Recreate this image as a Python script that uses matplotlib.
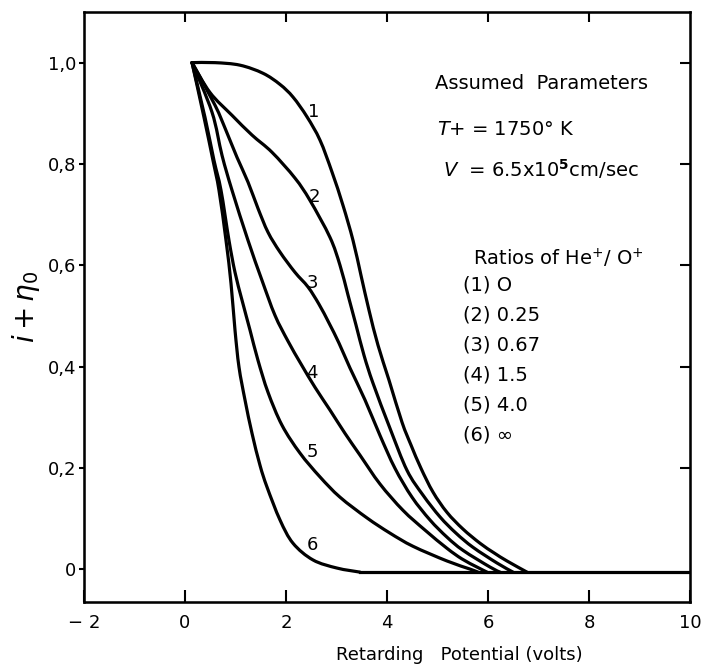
import matplotlib
matplotlib.use("Agg")
import numpy as np
from matplotlib import pyplot as plt
from matplotlib.path import Path
from matplotlib.patches import PathPatch

plt.rcParams['font.family'] = ['DejaVu Sans']
plt.rcParams['mathtext.fontset'] = 'dejavusans'

# retarding potential (volts) vs normalised current, one curve per He+/O+ ratio
v1 = [0.139, 0.594, 1.089, 1.545, 1.881, 2.139, 2.416, 2.673, 2.911, 3.129, 3.327, 3.485, 3.644,
      3.822, 4.040, 4.297, 4.475, 4.673, 4.911, 5.188, 5.505, 5.842, 6.119, 6.376, 6.772]
c1 = [1.000, 1.000, 0.995, 0.979, 0.957, 0.932, 0.893, 0.847, 0.784, 0.718, 0.649, 0.580, 0.511,
      0.442, 0.373, 0.290, 0.245, 0.199, 0.152, 0.112, 0.079, 0.051, 0.032, 0.016, -0.006]

v2 = [0.139, 0.495, 0.931, 1.327, 1.723, 2.178, 2.475, 2.871, 3.069, 3.228, 3.386, 3.545, 3.723,
      4.059, 4.396, 4.713, 5.050, 5.366, 5.703, 6.178, 6.495]
c2 = [1.000, 0.941, 0.896, 0.857, 0.823, 0.772, 0.728, 0.655, 0.600, 0.541, 0.482, 0.422, 0.367,
      0.278, 0.195, 0.146, 0.103, 0.071, 0.043, 0.012, -0.006]

v3 = [0.139, 0.594, 0.812, 1.030, 1.248, 1.446, 1.644, 1.881, 2.178, 2.436, 2.653, 2.851, 3.050,
      3.267, 3.564, 3.861, 4.158, 4.495, 4.851, 5.188, 5.505, 6.040, 6.238]
c3 = [1.000, 0.916, 0.866, 0.813, 0.764, 0.712, 0.665, 0.626, 0.586, 0.557, 0.523, 0.486, 0.446,
      0.397, 0.334, 0.264, 0.199, 0.142, 0.097, 0.063, 0.037, 0.004, -0.006]

v4 = [0.139, 0.535, 0.733, 0.931, 1.248, 1.525, 1.782, 2.040, 2.297, 2.574, 2.871, 3.168, 3.465,
      3.861, 4.317, 4.752, 5.188, 5.485, 5.782, 5.980]
c4 = [1.000, 0.902, 0.817, 0.748, 0.649, 0.570, 0.501, 0.450, 0.405, 0.359, 0.314, 0.268, 0.225,
      0.168, 0.116, 0.077, 0.041, 0.020, 0.004, -0.006]

v5 = [0.139, 0.396, 0.574, 0.713, 0.871, 0.990, 1.129, 1.287, 1.446, 1.644, 1.921, 2.277, 2.673,
      3.069, 3.604, 4.059, 4.515, 5.188, 5.644, 5.802]
c5 = [1.000, 0.892, 0.807, 0.748, 0.649, 0.586, 0.531, 0.472, 0.412, 0.349, 0.284, 0.229, 0.182,
      0.142, 0.101, 0.071, 0.045, 0.016, 0.000, -0.006]

v6 = [0.139, 0.376, 0.554, 0.673, 0.812, 0.911, 0.990, 1.069, 1.188, 1.327, 1.485, 1.624, 1.881,
      2.139, 2.535, 3.010, 3.465]
c6 = [1.000, 0.892, 0.807, 0.748, 0.649, 0.564, 0.472, 0.399, 0.334, 0.268, 0.205, 0.162, 0.097,
      0.051, 0.018, 0.002, -0.006]

# every curve runs out along this level to the right edge
floor_level = -0.006

curves = [(v1, c1), (v2, c2), (v3, c3), (v4, c4), (v5, c5), (v6, c6)]
curve_tags = ["1", "2", "3", "4", "5", "6"]
tag_pos = [(2.55, 0.902), (2.57, 0.734), (2.53, 0.564), (2.51, 0.387), (2.53, 0.231), (2.53, 0.047)]

ratio_labels = ["(1) O", "(2) 0.25", "(3) 0.67", "(4) 1.5", "(5) 4.0", "(6) \u221e"]

xticks = [-2, 0, 2, 4, 6, 8, 10]
xtick_labels = ["\u2212 2", "0", "2", "4", "6", "8", "10"]
yticks = [0, 0.2, 0.4, 0.6, 0.8, 1.0]
ytick_labels = ["0", "0,2", "0,4", "0,6", "0,8", "1,0"]


def smooth_path(xs, ys):
    # Catmull-Rom segments written as cubic Bezier pieces
    pts = np.column_stack([xs, ys])
    ext = np.vstack([pts[0], pts, pts[-1]])
    verts = [pts[0]]
    codes = [Path.MOVETO]
    for i in range(1, len(ext) - 2):
        p0, p1, p2, p3 = ext[i - 1], ext[i], ext[i + 1], ext[i + 2]
        verts += [p1 + (p2 - p0) / 6, p2 - (p3 - p1) / 6, p2]
        codes += [Path.CURVE4] * 3
    return Path(verts, codes)


fig = plt.figure(figsize=(7.01, 6.66), dpi=100)
ax = fig.add_axes([84 / 701, 1 - 602 / 666, 606 / 701, 590 / 666])

for v, c in curves:
    ax.add_patch(PathPatch(smooth_path(v, c), fill=False, edgecolor="black",
                           lw=2.3, joinstyle="round", capstyle="round"))
ax.plot([min(v[-1] for v, c in curves), 10], [floor_level, floor_level], color="black", lw=2.3)

for tag, (x, y) in zip(curve_tags, tag_pos):
    ax.text(x, y, tag, fontsize=13, ha="center", va="center")

ax.set_xlim(-2, 10)
ax.set_ylim(-0.065, 1.1)
ax.set_xticks(xticks)
ax.set_xticklabels(xtick_labels, fontsize=13)
ax.set_yticks(yticks)
ax.set_yticklabels(ytick_labels, fontsize=13)
ax.tick_params(axis="x", direction="in", length=9, width=1.5, pad=9)
ax.tick_params(axis="y", direction="out", length=3.5, width=1.5, pad=2)
for sp in ax.spines.values():
    sp.set_linewidth(1.8)

# inward ticks along the top and right edges
top = ax.twiny()
top.set_xlim(ax.get_xlim())
top.set_xticks([0, 2, 4, 6, 8])
top.tick_params(axis="x", direction="in", length=7, width=1.5, labeltop=False)
right = ax.twinx()
right.set_ylim(ax.get_ylim())
right.set_yticks([0.2, 0.4, 0.6, 0.8, 1.0])
right.tick_params(axis="y", direction="in", length=7, width=1.5, labelright=False)

ax.set_xlabel("Retarding   Potential (volts)", fontsize=13, x=0.62, labelpad=10)
ax.set_ylabel(r"$i + \eta_0$", fontsize=20, labelpad=4)

ax.text(4.95, 0.947, "Assumed  Parameters", fontsize=14)
ax.text(4.99, 0.857, "$T$+ = 1750\u00b0 K", fontsize=14)
ax.text(5.1, 0.774, r"$V$  = 6.5x10$^{\mathbf{5}}$cm/sec", fontsize=14)
ax.text(5.70, 0.600, "Ratios of He$^{+}$/ O$^{+}$", fontsize=14)
for i, lab in enumerate(ratio_labels):
    ax.text(5.50, 0.551 - i * 0.0595, lab, fontsize=14)

fig.savefig("out.png", dpi=100)
